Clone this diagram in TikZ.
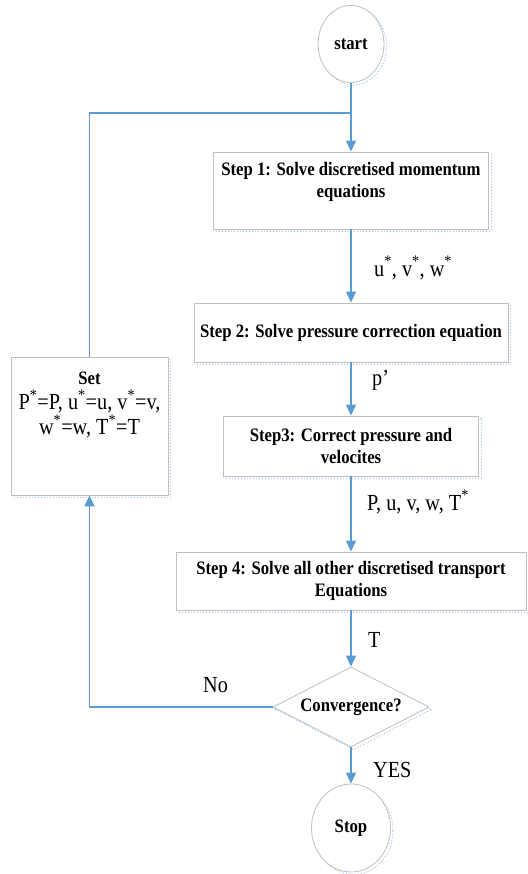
\documentclass[tikz,border=0pt]{standalone}
\usepackage{fontspec}
\setmainfont[FakeStretch=0.88]{Liberation Serif}
\usepackage{tikz}
\usetikzlibrary{positioning,arrows.meta,shapes.geometric}
\definecolor{lineblue}{RGB}{91,155,213}
\definecolor{edgegray}{RGB}{191,191,191}
\definecolor{shadowblue}{RGB}{155,194,230}
\newcommand{\labfont}{\fontsize{23}{25}\selectfont}

\begin{document}
\begin{tikzpicture}[x=1pt,y=1pt,align=center,font=\fontsize{19}{22}\selectfont]
            \tikzstyle{dotshadow}=[preaction={draw=shadowblue,dotted,line width=1pt,transform canvas={shift={(2.5pt,-2.5pt)}}}]
            \tikzstyle{box}=[draw=edgegray,fill=white,line width=0.8pt,inner sep=2pt,dotshadow]
            \tikzstyle{term}=[ellipse,box]
            \tikzstyle{flow}=[draw=lineblue,line width=1.3pt,-{Triangle[width=10pt,length=11pt]}]
            \tikzstyle{lab}=[anchor=west,inner sep=0pt,font=\labfont]
            \useasboundingbox (0,0) rectangle (527,874);

            \node[term,minimum width=66pt,minimum height=77pt] (start) at (351,830) {\textbf{start}};
            \node[box,minimum width=275pt,minimum height=77pt] (s1) at (351,683.5) {\textbf{Step 1: Solve discretised momentum}\\ \textbf{equations}\\ \mbox{}};
            \node[box,minimum width=314pt,minimum height=59pt] (s2) at (351,541.5) {\textbf{Step 2: Solve pressure correction equation}};
            \node[box,minimum width=255pt,minimum height=60pt] (s3) at (351,428) {\textbf{Step3: Correct pressure and}\\ \textbf{velocites}};
            \node[box,minimum width=350pt,minimum height=58pt] (s4) at (351,293) {\textbf{Step 4: Solve all other discretised transport}\\ \textbf{Equations}};
            \node[diamond,box,aspect=2,minimum width=156pt,minimum height=80pt,inner sep=0pt] (conv) at (351,167) {\textbf{Convergence?}};
            \node[term,minimum width=79pt,minimum height=88pt] (stop) at (351,46) {\textbf{Stop}};
            \node[box,minimum width=157pt,minimum height=138pt,inner sep=0pt,font=\labfont] (set) at (89.5,448) {{\fontsize{19}{22}\selectfont\textbf{Set}}\\ P\textsuperscript{*}=P, u\textsuperscript{*}=u,\ v\textsuperscript{*}=v,\\ w\textsuperscript{*}=w, T\textsuperscript{*}=T\\ \mbox{}\\[-4pt] \mbox{}};
            \coordinate (loop) at (351,761);

            \node[lab] (uvw) at (374,606) {u\textsuperscript{*}, v\textsuperscript{*}, w\textsuperscript{*}};
            \node[lab] (pc) at (372,494) {p'};
            \node[lab] (puvw) at (367,372) {P, u, v, w, T\textsuperscript{*}};
            \node[lab] (tl) at (368,234) {T};
            \node[lab] (no) at (203,189) {No};
            \node[lab] (yes) at (373,104) {YES};

            \draw[flow] (start) -- (s1);
            \draw[flow] (s1) -- (s2);
            \draw[flow] (s2) -- (s3);
            \draw[flow] (s3) -- (s4);
            \draw[flow] (s4) -- (conv);
            \draw[flow] (conv) -- (stop);
            \draw[flow] (conv.west) -| (set.south);
            \draw[flow,-] (set.north) |- (loop);
        \end{tikzpicture}
\end{document}
